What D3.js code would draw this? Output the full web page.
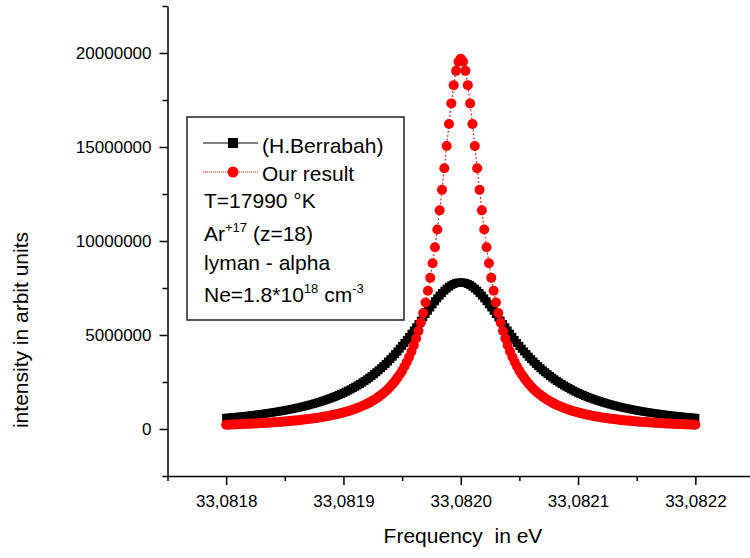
<!DOCTYPE html>
<html><head><meta charset="utf-8">
<script src="https://cdn.jsdelivr.net/npm/d3@7"></script>
<style>
body{margin:0;background:#fff}
svg text{font-family:"Liberation Sans",Arial,sans-serif;fill:#000}
</style>
</head><body>
<svg id="chart" width="750" height="558"></svg>
<script>
// ---- data (intensity values in millions of arbitrary units) ----
const FREQ_START = 33.0818;
const FREQ_STEP = 0.000002;
const UNIT = 1e6;

const berrabah = [
0.590,0.601,0.612,0.624,0.636,0.648,0.661,0.674,0.687,0.701,
0.715,0.730,0.745,0.761,0.777,0.793,0.810,0.828,0.846,0.865,
0.884,0.904,0.924,0.946,0.968,0.990,1.014,1.038,1.063,1.089,
1.116,1.144,1.172,1.202,1.233,1.265,1.298,1.333,1.369,1.406,
1.444,1.484,1.526,1.569,1.614,1.660,1.709,1.759,1.812,1.866,
1.923,1.982,2.044,2.108,2.175,2.244,2.317,2.392,2.471,2.553,
2.639,2.728,2.821,2.917,3.018,3.123,3.232,3.346,3.464,3.587,
3.714,3.846,3.983,4.124,4.271,4.422,4.577,4.737,4.900,5.068,
5.238,5.412,5.587,5.764,5.941,6.117,6.292,6.464,6.632,6.795,
6.950,7.097,7.234,7.359,7.471,7.569,7.650,7.715,7.762,7.790,
7.800,
7.790,7.762,7.715,7.650,7.569,7.471,7.359,7.234,7.097,6.950,
6.795,6.632,6.464,6.292,6.117,5.941,5.764,5.587,5.412,5.238,
5.068,4.900,4.737,4.577,4.422,4.271,4.124,3.983,3.846,3.714,
3.587,3.464,3.346,3.232,3.123,3.018,2.917,2.821,2.728,2.639,
2.553,2.471,2.392,2.317,2.244,2.175,2.108,2.044,1.982,1.923,
1.866,1.812,1.759,1.709,1.660,1.614,1.569,1.526,1.484,1.444,
1.406,1.369,1.333,1.298,1.265,1.233,1.202,1.172,1.144,1.116,
1.089,1.063,1.038,1.014,0.990,0.968,0.946,0.924,0.904,0.884,
0.865,0.846,0.828,0.810,0.793,0.777,0.761,0.745,0.730,0.715,
0.701,0.687,0.674,0.661,0.648,0.636,0.624,0.612,0.601,0.590
];

const ourResult = [
0.227,0.232,0.236,0.241,0.246,0.251,0.257,0.262,0.268,0.274,
0.280,0.286,0.292,0.299,0.306,0.313,0.320,0.328,0.336,0.344,
0.353,0.361,0.371,0.380,0.390,0.400,0.411,0.422,0.434,0.446,
0.458,0.471,0.485,0.499,0.514,0.529,0.545,0.562,0.580,0.599,
0.618,0.639,0.660,0.683,0.706,0.732,0.758,0.785,0.815,0.846,
0.878,0.913,0.949,0.988,1.029,1.073,1.119,1.169,1.222,1.278,
1.338,1.403,1.472,1.547,1.627,1.713,1.805,1.906,2.010,2.130,
2.260,2.400,2.550,2.720,2.900,3.100,3.320,3.560,3.830,4.120,
4.450,4.810,5.210,5.660,6.170,6.730,7.350,8.040,8.820,9.670,
10.61,11.63,12.72,13.87,15.05,16.22,17.32,18.29,19.05,19.53,
19.70,
19.53,19.05,18.29,17.32,16.22,15.05,13.87,12.72,11.63,10.61,
9.670,8.820,8.040,7.350,6.730,6.170,5.660,5.210,4.810,4.450,
4.120,3.830,3.560,3.320,3.100,2.900,2.720,2.550,2.400,2.260,
2.130,2.010,1.906,1.805,1.713,1.627,1.547,1.472,1.403,1.338,
1.278,1.222,1.169,1.119,1.073,1.029,0.988,0.949,0.913,0.878,
0.846,0.815,0.785,0.758,0.732,0.706,0.683,0.660,0.639,0.618,
0.599,0.580,0.562,0.545,0.529,0.514,0.499,0.485,0.471,0.458,
0.446,0.434,0.422,0.411,0.400,0.390,0.380,0.371,0.361,0.353,
0.344,0.336,0.328,0.320,0.313,0.306,0.299,0.292,0.286,0.280,
0.274,0.268,0.262,0.257,0.251,0.246,0.241,0.236,0.232,0.227
];

const xTicks = [33.0818, 33.0819, 33.0820, 33.0821, 33.0822];
const xTickLabels = ["33,0818","33,0819","33,0820","33,0821","33,0822"];
const xMinorTicks = [33.08175, 33.08185, 33.08195, 33.08205, 33.08215, 33.08225];
const yTicks = [0, 5000000, 10000000, 15000000, 20000000];
const yTickLabels = ["0","5000000","10000000","15000000","20000000"];
const yMinorTicks = [-2500000, 2500000, 7500000, 12500000, 17500000, 22500000];

const legendLabels = ["(H.Berrabah)", "Our result"];

// ---- chart ----
const svg = d3.select("#chart");
const x = d3.scaleLinear().domain([33.08175, 33.08225]).range([167.5, 754]);
const y = d3.scaleLinear().domain([-2500000, 22500000]).range([476, 6]);

const seriesA = berrabah.map((v, i) => ({f: FREQ_START + i * FREQ_STEP, v: v * UNIT}));
const seriesB = ourResult.map((v, i) => ({f: FREQ_START + i * FREQ_STEP, v: v * UNIT}));

// axes
const yAxis = svg.append("g").attr("transform", `translate(${x.range()[0]},0)`)
  .call(d3.axisLeft(y).tickValues(yTicks).tickSize(8).tickSizeOuter(0).tickPadding(8)
    .tickFormat((d, i) => yTickLabels[i]));
svg.append("g").attr("transform", `translate(${x.range()[0]},0)`)
  .call(d3.axisLeft(y).tickValues(yMinorTicks).tickSize(5).tickFormat(""))
  .call(g => g.select(".domain").remove());

const xAxis = svg.append("g").attr("transform", `translate(0,${y.range()[0]})`)
  .call(d3.axisBottom(x).tickValues(xTicks).tickSize(9).tickSizeOuter(0).tickPadding(10)
    .tickFormat((d, i) => xTickLabels[i]));
svg.append("g").attr("transform", `translate(0,${y.range()[0]})`)
  .call(d3.axisBottom(x).tickValues(xMinorTicks).tickSize(5).tickFormat(""))
  .call(g => g.select(".domain").remove());

svg.selectAll(".domain").attr("stroke", "#000").attr("stroke-width", 1.5);
svg.selectAll(".tick line").attr("stroke", "#000").attr("stroke-width", 1.5);
svg.selectAll(".tick text").attr("font-size", 17).attr("font-family", "Liberation Sans, Arial, sans-serif");

// axis titles
svg.append("text").attr("x", 463).attr("y", 543).attr("text-anchor", "middle")
  .attr("font-size", 21).style("white-space", "pre").text("Frequency  in eV");
svg.append("text").attr("transform", "translate(28,330) rotate(-90)")
  .attr("text-anchor", "middle").attr("font-size", 21).text("intensity in arbit units");

// series A (black squares)
const line = d3.line().x(d => x(d.f)).y(d => y(d.v));
svg.append("path").datum(seriesA).attr("d", line)
  .attr("fill", "none").attr("stroke", "#000").attr("stroke-width", 1);
svg.append("g").selectAll("rect").data(seriesA).join("rect")
  .attr("x", d => x(d.f) - 4).attr("y", d => y(d.v) - 4)
  .attr("width", 8).attr("height", 8).attr("fill", "#000");

// series B (red circles)
svg.append("path").datum(seriesB).attr("d", line)
  .attr("fill", "none").attr("stroke", "#ff0000").attr("stroke-width", 1)
  .attr("stroke-dasharray", "2,2");
svg.append("g").selectAll("circle").data(seriesB).join("circle")
  .attr("cx", d => x(d.f)).attr("cy", d => y(d.v)).attr("r", 5)
  .attr("fill", "#ff0000");

// legend
const lg = svg.append("g");
lg.append("rect").attr("x", 187).attr("y", 117).attr("width", 217).attr("height", 203)
  .attr("fill", "#fff").attr("stroke", "#222").attr("stroke-width", 1.5);
lg.append("line").attr("x1", 203).attr("x2", 258).attr("y1", 143).attr("y2", 143)
  .attr("stroke", "#000").attr("stroke-width", 1);
lg.append("rect").attr("x", 228).attr("y", 138).attr("width", 10).attr("height", 10).attr("fill", "#000");
lg.append("text").attr("x", 262).attr("y", 153).attr("font-size", 21).text(legendLabels[0]);
lg.append("line").attr("x1", 203).attr("x2", 258).attr("y1", 172).attr("y2", 172)
  .attr("stroke", "#ff0000").attr("stroke-width", 1).attr("stroke-dasharray", "1,1");
lg.append("circle").attr("cx", 233).attr("cy", 172).attr("r", 5.5).attr("fill", "#ff0000");
lg.append("text").attr("x", 262).attr("y", 181).attr("font-size", 21).text(legendLabels[1]);

lg.append("text").attr("x", 204).attr("y", 208).attr("font-size", 21).text("T=17990 °K");
const t4 = lg.append("text").attr("x", 204).attr("y", 241).attr("font-size", 21);
t4.append("tspan").text("Ar");
t4.append("tspan").attr("font-size", 13).attr("dy", -9).text("+17");
t4.append("tspan").attr("dy", 9).text(" (z=18)");
lg.append("text").attr("x", 204).attr("y", 270).attr("font-size", 21).text("lyman - alpha");
const t6 = lg.append("text").attr("x", 204).attr("y", 302).attr("font-size", 21);
t6.append("tspan").text("Ne=1.8*10");
t6.append("tspan").attr("font-size", 13).attr("dy", -9).text("18");
t6.append("tspan").attr("dy", 9).text(" cm");
t6.append("tspan").attr("font-size", 13).attr("dy", -9).text("-3");
</script>
</body></html>
